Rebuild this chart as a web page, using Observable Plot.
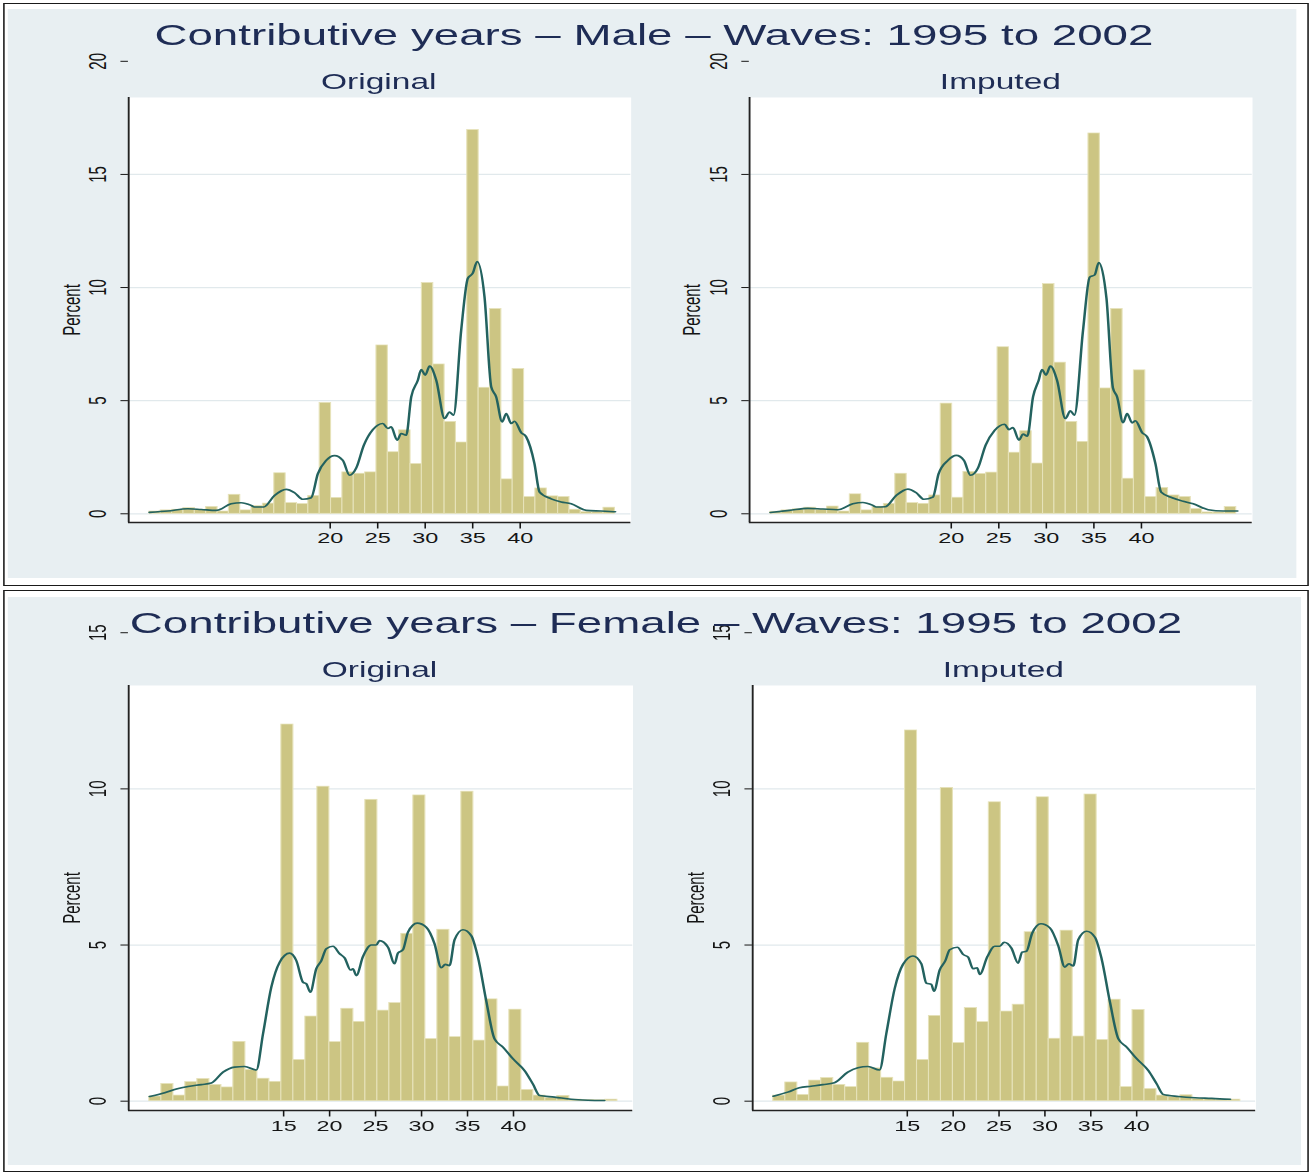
<!DOCTYPE html>
<html>
<head>
<meta charset="utf-8">
<script src="https://cdn.jsdelivr.net/npm/d3@7"></script>
<script src="https://cdn.jsdelivr.net/npm/@observablehq/plot@0.6"></script>
<style>
  html, body { margin: 0; padding: 0; background: #ffffff; }
  #stage {
    position: relative; width: 841.67px; height: 1174px;
    transform: scaleX(1.56); transform-origin: 0 0;
    font-family: "Liberation Sans", Arial, Helvetica, sans-serif;
  }
  .panel { position: absolute; border: 1.4px solid #1a1a1a; background: #ffffff; box-sizing: border-box; }
  .bg { position: absolute; background: #e8eff2; }
  .chart { position: absolute; }
  #overlay { position: absolute; left: 0; top: 0; pointer-events: none; }
</style>
</head>
<body>
<div id="stage">
  <div class="panel" style="left:1.7px;top:2.7px;width:837.6px;height:583.3px;"></div>
  <div class="bg" style="left:5.3px;top:9.3px;width:825.9px;height:569px;"></div>
  <div class="panel" style="left:1.7px;top:590px;width:837.6px;height:582px;"></div>
  <div class="bg" style="left:5.3px;top:597px;width:828.7px;height:568px;"></div>
</div>
<script>
// ---------------- DATA ----------------
const titles = [
  "Contributive years \u2013 Male \u2013 Waves: 1995 to 2002",
  "Contributive years \u2013 Female \u2013 Waves: 1995 to 2002"
];
const subtitles = ["Original", "Imputed"];
const yLabel = "Percent";

const maleXTicks = [20, 25, 30, 35, 40];
const maleYTicks = [0, 5, 10, 15, 20];
const femaleXTicks = [15, 20, 25, 30, 35, 40];
const femaleYTicks = [0, 5, 10, 15];

// histogram bins (Stata default bins)
const maleBinStart = 1, maleBinWidth = 1.195;
const femaleBinStart = 0.43, femaleBinWidth = 1.305;

const maleOriginalPct = [0.10,0.15,0.18,0.25,0.18,0.30,0.10,0.84,0.15,0.34,0.45,1.79,0.47,0.43,0.79,4.90,0.70,1.83,1.77,1.83,7.44,2.72,3.69,2.20,10.20,6.60,4.06,3.15,16.96,5.57,9.05,1.52,6.40,0.74,1.12,0.77,0.74,0.18,0.07,0.07,0.27];
const maleImputedPct  = [0.09,0.15,0.20,0.27,0.18,0.32,0.10,0.86,0.15,0.31,0.44,1.77,0.47,0.44,0.81,4.87,0.71,1.85,1.76,1.82,7.36,2.70,3.65,2.22,10.15,6.68,4.06,3.18,16.81,5.54,9.05,1.55,6.34,0.74,1.14,0.81,0.74,0.21,0.06,0.06,0.30];
const femaleOriginalPct = [0.15,0.55,0.18,0.61,0.71,0.52,0.44,1.90,1.00,0.72,0.62,12.06,1.32,2.71,10.07,1.89,2.96,2.54,9.65,2.90,3.14,5.36,9.79,1.99,5.49,2.05,9.91,1.94,3.26,0.47,2.93,0.36,0.18,0.10,0.17,0.05,0.04,0.03,0.05];
const femaleImputedPct  = [0.18,0.60,0.20,0.66,0.74,0.52,0.45,1.87,1.05,0.75,0.63,11.87,1.32,2.73,10.03,1.86,2.98,2.53,9.57,2.87,3.09,5.41,9.73,2.00,5.46,2.07,9.82,1.96,3.25,0.45,2.92,0.39,0.18,0.13,0.19,0.07,0.06,0.05,0.05];

// kernel density curves (percent scale)
const maleOriginalDensity = [[0.98,0.06],[2.91,0.12],[5.02,0.22],[6.42,0.19],[8.0,0.15],[9.58,0.44],[10.63,0.49],[11.68,0.37],[12.03,0.3],[13.0,0.3],[14.14,0.81],[15.37,1.08],[16.25,0.93],[17.12,0.64],[18.0,0.71],[18.7,1.77],[19.58,2.36],[20.46,2.57],[21.33,2.36],[22.04,1.7],[22.74,2.02],[23.54,3.03],[24.49,3.72],[25.54,3.99],[26.07,3.77],[26.42,3.84],[27.05,3.25],[27.47,3.55],[28.0,3.47],[28.53,5.17],[29.23,5.91],[29.58,6.38],[30.0,6.13],[30.46,6.53],[31.16,5.91],[32.04,4.21],[32.56,4.5],[32.98,4.36],[33.79,8.12],[34.49,10.41],[35.02,10.64],[35.47,11.15],[36.24,9.6],[36.95,5.61],[37.47,5.17],[38.1,4.06],[38.53,4.43],[39.05,3.99],[39.4,4.09],[40.1,3.59],[40.63,3.4],[41.5,2.22],[42.04,0.96],[43.26,0.66],[44.32,0.52],[45.37,0.44],[46.95,0.15],[48.5,0.12],[50.0,0.09]];
const maleImputedDensity = [[0.98,0.06],[2.98,0.15],[4.91,0.24],[6.49,0.21],[8.07,0.18],[9.65,0.44],[10.7,0.5],[11.75,0.37],[12.1,0.3],[13.05,0.31],[14.21,0.81],[15.44,1.09],[16.32,0.93],[17.12,0.64],[18.07,0.74],[18.67,1.77],[19.65,2.36],[20.53,2.58],[21.33,2.36],[22.03,1.7],[22.81,2.02],[23.61,3.03],[24.56,3.69],[25.61,3.96],[26.07,3.72],[26.49,3.81],[27.12,3.25],[27.54,3.52],[28.0,3.43],[28.6,5.17],[29.2,5.91],[29.54,6.38],[29.96,6.13],[30.42,6.53],[31.12,5.91],[32.0,4.21],[32.53,4.55],[32.95,4.36],[33.86,8.12],[34.56,10.46],[35.09,10.56],[35.51,11.11],[36.32,9.53],[37.0,5.57],[37.44,5.17],[38.07,4.03],[38.49,4.43],[39.02,4.02],[39.37,4.11],[40.07,3.59],[40.6,3.4],[41.47,2.22],[42.07,0.96],[43.23,0.71],[44.39,0.55],[45.44,0.44],[47.02,0.18],[48.6,0.12],[50.1,0.12]];
const femaleOriginalDensity = [[0.43,0.15],[2.07,0.27],[3.34,0.39],[4.61,0.47],[6.05,0.53],[7.14,0.58],[8.41,0.93],[9.67,1.09],[10.76,1.11],[12.03,1.0],[12.76,2.16],[13.66,3.65],[14.57,4.45],[15.65,4.74],[16.38,4.5],[17.11,3.81],[17.47,3.76],[17.9,3.49],[18.55,4.24],[19.1,4.5],[19.64,4.88],[20.37,4.96],[21.09,4.72],[21.63,4.59],[22.28,4.2],[22.54,4.24],[22.9,4.02],[23.63,4.63],[24.53,5.0],[25.08,5.0],[25.43,5.14],[26.35,4.93],[27.07,4.4],[27.43,4.74],[27.98,4.85],[28.52,5.41],[29.53,5.7],[30.51,5.57],[31.41,5.04],[32.14,4.27],[32.58,4.38],[33.04,4.34],[33.59,5.17],[34.5,5.49],[35.4,5.3],[36.13,4.61],[37.03,3.22],[37.93,2.0],[38.85,1.73],[39.93,1.36],[41.2,0.98],[42.11,0.55],[42.83,0.18],[44.46,0.13],[46.27,0.06],[48.09,0.03],[49.89,0.02]];
const femaleImputedDensity = [[0.4,0.16],[1.97,0.29],[3.24,0.43],[4.52,0.48],[5.79,0.53],[7.06,0.59],[8.52,0.93],[9.62,1.07],[10.71,1.11],[11.98,1.0],[12.71,2.16],[13.62,3.6],[14.53,4.38],[15.62,4.65],[16.53,4.4],[17.07,3.78],[17.62,3.74],[17.91,3.52],[18.53,4.2],[19.15,4.5],[19.62,4.85],[20.46,4.93],[21.08,4.7],[21.63,4.61],[22.17,4.24],[22.61,4.27],[22.9,4.06],[23.73,4.63],[24.53,4.96],[25.08,4.96],[25.56,5.09],[26.35,4.9],[27.08,4.42],[27.52,4.77],[27.99,4.8],[28.61,5.38],[29.56,5.68],[30.54,5.55],[31.45,4.98],[32.17,4.29],[32.61,4.4],[33.09,4.33],[33.63,5.17],[34.54,5.44],[35.45,5.25],[36.18,4.56],[37.09,3.17],[38.0,2.0],[38.91,1.73],[40.0,1.36],[41.28,0.98],[42.19,0.55],[42.92,0.21],[44.55,0.15],[46.37,0.11],[48.19,0.09],[50.19,0.06]];

// ---------------- STYLE / LAYOUT ----------------
const FONT = '"Liberation Sans", Arial, Helvetica, sans-serif';
const TITLE_COLOR = "#1e2c55";
const BAR_FILL = "#ccc583";
const BAR_EDGE = "#e6e2b9";
const LINE_COLOR = "#23625f";
const GRID_COLOR = "#e1e9ec";
const ML = 80, MT = 60, MR = 12, MB = 40, FH = 425;

function histPlot({pct, binStart, binWidth, dens, xDomain, yDomain, xTicks, yTicks, frameWidth}) {
  const bins = pct.map((v, i) => ({x1: binStart + i * binWidth, x2: binStart + (i + 1) * binWidth, pct: v}));
  const curve = dens.map(([x, y]) => ({x, y}));
  const grid = yTicks.filter(t => t <= yDomain[1]);
  return Plot.plot({
    width: ML + frameWidth + MR,
    height: MT + FH + MB,
    marginLeft: ML, marginTop: MT, marginRight: MR, marginBottom: MB,
    style: {background: "transparent", fontFamily: FONT, fontSize: "15px", color: "#151515", overflow: "visible"},
    x: {domain: xDomain},
    y: {domain: yDomain},
    marks: [
      Plot.frame({fill: "white", stroke: null}),
      Plot.gridY(grid, {stroke: GRID_COLOR, strokeOpacity: 1, strokeWidth: 1.2}),
      Plot.rectY(bins, {x1: "x1", x2: "x2", y: "pct", fill: BAR_FILL, stroke: BAR_EDGE, strokeWidth: 0.7}),
      Plot.line(curve, {x: "x", y: "y", stroke: LINE_COLOR, strokeWidth: 1.6, curve: "monotone-x"}),
      Plot.ruleX([xDomain[0]], {stroke: "#222", strokeWidth: 1.2}),
      Plot.ruleY([yDomain[0]], {stroke: "#222", strokeWidth: 1.4}),
      Plot.axisX({ticks: xTicks, tickSize: 6.5, tickPadding: 3.2, label: null, anchor: "bottom"}),
      Plot.axisY({ticks: yTicks, tickSize: 4.8, tickPadding: 9.6, tickRotate: -90, anchor: "left", label: null}),
      Plot.text([yLabel], {text: d => d, frameAnchor: "left", dx: -42.2, rotate: -90,
                           lineAnchor: "top", textAnchor: "middle", fill: "#151515", fontSize: 15})
    ]
  });
}

const stage = document.getElementById("stage");
function place(svg, frameLeft, frameTop) {
  const wrap = document.createElement("div");
  wrap.className = "chart";
  wrap.style.left = (frameLeft - ML) + "px";
  wrap.style.top = (frameTop - MT) + "px";
  wrap.appendChild(svg);
  stage.appendChild(wrap);
}

const maleXDomain = [-1.21, 51.68], maleYDomain = [-0.385, 18.40];
const femaleXDomain = [-1.85, 53.0], femaleYDomain = [-0.298, 13.31];

place(histPlot({pct: maleOriginalPct, binStart: maleBinStart, binWidth: maleBinWidth, dens: maleOriginalDensity,
  xDomain: maleXDomain, yDomain: maleYDomain, xTicks: maleXTicks, yTicks: maleYTicks, frameWidth: 322.1}), 81.73, 97);
place(histPlot({pct: maleImputedPct, binStart: maleBinStart, binWidth: maleBinWidth, dens: maleImputedDensity,
  xDomain: maleXDomain, yDomain: maleYDomain, xTicks: maleXTicks, yTicks: maleYTicks, frameWidth: 322.4}), 480.13, 97);
place(histPlot({pct: femaleOriginalPct, binStart: femaleBinStart, binWidth: femaleBinWidth, dens: femaleOriginalDensity,
  xDomain: femaleXDomain, yDomain: femaleYDomain, xTicks: femaleXTicks, yTicks: femaleYTicks, frameWidth: 323.3}), 81.6, 685);
place(histPlot({pct: femaleImputedPct, binStart: femaleBinStart, binWidth: femaleBinWidth, dens: femaleImputedDensity,
  xDomain: femaleXDomain, yDomain: femaleYDomain, xTicks: femaleXTicks, yTicks: femaleYTicks, frameWidth: 322.6}), 481.86, 685);

// titles overlay
const ns = "http://www.w3.org/2000/svg";
const ov = document.createElementNS(ns, "svg");
ov.setAttribute("id", "overlay");
ov.setAttribute("width", 841.67);
ov.setAttribute("height", 1174);
function addText(str, x, y, size) {
  const t = document.createElementNS(ns, "text");
  t.setAttribute("x", x); t.setAttribute("y", y);
  t.setAttribute("text-anchor", "middle");
  t.setAttribute("font-family", FONT);
  t.setAttribute("font-size", size);
  t.setAttribute("fill", TITLE_COLOR);
  t.textContent = str;
  ov.appendChild(t);
}
addText(titles[0], 419.2, 45.5, 29.3);
addText(subtitles[0], 242.8, 89.5, 21.5);
addText(subtitles[1], 641.3, 89.5, 21.5);
addText(titles[1], 420.5, 633, 29.3);
addText(subtitles[0], 243.3, 677, 21.5);
addText(subtitles[1], 643.2, 677, 21.5);
stage.appendChild(ov);
</script>
</body>
</html>
